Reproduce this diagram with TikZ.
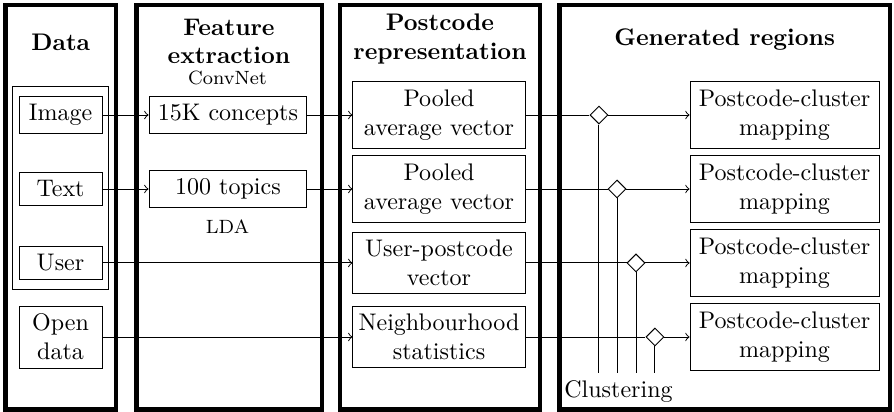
\documentclass[tikz,border=0pt]{standalone}
\usepackage{amsmath, amssymb}
\usetikzlibrary{positioning, fit, shapes.geometric}

\tikzset{
  panel/.style={line width=2pt},
  title/.style={font=\bfseries, align=center},
  note/.style={font=\footnotesize},
  box/.style={draw, align=center},
  databox/.style={box, minimum width=34.6pt},
  featbox/.style={box, minimum width=65.8pt},
  postbox/.style={box, minimum width=71.7pt, inner xsep=2pt},
  mapbox/.style={box, minimum width=78.7pt, inner xsep=2.5pt},
  junction/.style={draw, diamond, inner sep=0pt, minimum size=7.5pt}
}

\begin{document}
\begin{tikzpicture}
    \useasboundingbox (0,0) rectangle (13.09,6.032);

    % Panels
    \draw[panel] (0.085,0.037) rectangle (1.698,5.959);
    \draw[panel] (2.001,0.037) rectangle (4.714,5.959);
    \draw[panel] (4.978,0.037) rectangle (7.906,5.959);
    \draw[panel] (8.192,0.037) rectangle (13.03,5.959);

    % Titles
    \node[title] (tdata) at (0.89,5.417) {Data};
    \node[title] (tfeat) at (3.353,5.425) {Feature\\extraction};
    \node[note] (convnet) at (3.331,4.89) {ConvNet};
    \node[title] (tpost) at (6.442,5.461) {Postcode\\representation};
    \node[title] (tgen) at (10.61,5.447) {Generated regions};

    % Data sources
    \node[databox] (image) at (0.886,4.348) {Image};
    \node[databox] (text) at (0.886,3.265) {Text};
    \node[databox] (user) at (0.886,2.182) {User};
    \node[databox] (open) at (0.886,1.098) {Open\\data};
    \node[draw, fit=(image)(text)(user), inner xsep=2.5pt, inner ysep=4pt] (group) {};

    % Feature extraction
    \node[featbox] (concepts) at (3.338,4.348) {15K concepts};
    \node[featbox] (topics) at (3.338,3.265) {100 topics};
    \node[note] (lda) at (3.331,2.709) {LDA};

    % Postcode representation
    \node[postbox] (post1) at (6.428,4.348) {Pooled\\average vector};
    \node[postbox] (post2) at (6.428,3.265) {Pooled\\average vector};
    \node[postbox] (post3) at (6.428,2.182) {User-postcode\\vector};
    \node[postbox] (post4) at (6.428,1.098) {Neighbourhood\\statistics};

    \draw[->] (image) -- (concepts);
    \draw[->] (concepts) -- (post1);
    \draw[->] (text) -- (topics);
    \draw[->] (topics) -- (post2);
    \draw[->] (user) -- (post3);
    \draw[->] (open) -- (post4);

    % Generated regions
    \foreach \i/\x/\y in {1/8.770/4.348, 2/9.034/3.265, 3/9.312/2.182, 4/9.590/1.098} {
      \node[mapbox] (map\i) at (11.487,\y) {Postcode-cluster\\mapping};
      \node[junction] (junc\i) at (\x,\y) {};
      \coordinate (foot\i) at (\x,0.571);
      \draw (post\i) -- (junc\i);
      \draw[->] (junc\i) -- (map\i);
      \draw (junc\i) -- (foot\i);
    }
    \node (clustering) at (9.056,0.293) {Clustering};

\end{tikzpicture}
\end{document}
